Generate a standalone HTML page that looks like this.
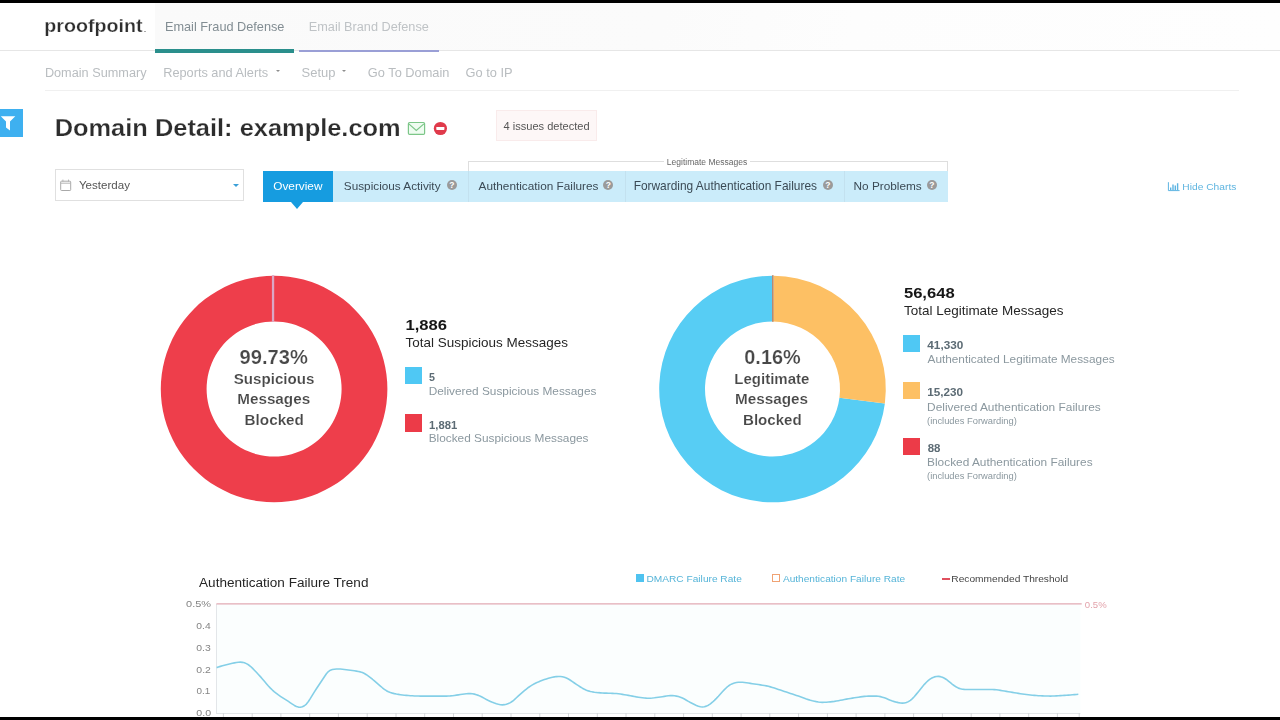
<!DOCTYPE html>
<html><head><meta charset="utf-8"><title>Domain Detail</title>
<style>
html,body{margin:0;padding:0;}
body{width:1280px;height:720px;overflow:hidden;background:#fff;position:relative;font-family:"Liberation Sans", sans-serif;}
.b{position:absolute;}
svg text{font-family:"Liberation Sans", sans-serif;white-space:pre;}
.q{position:absolute;width:10.4px;height:10.4px;border-radius:50%;background:#9a9a9a;color:#fff;font-family:"Liberation Sans", sans-serif;font-weight:bold;font-size:8.5px;line-height:10.6px;text-align:center;}
</style></head><body>
<svg class="b" style="left:0;top:0;z-index:1" width="1280" height="720" viewBox="0 0 1280 720">
<path d="M274.10 275.70 A113.3 113.3 0 1 1 274.08 275.70 L274.09 321.50 A67.5 67.5 0 1 0 274.10 321.50 Z" fill="#ee3e4b"/>
<rect x="271.9" y="275.2" width="2.3" height="46.6" fill="#dba6c4"/>
<path d="M884.87 403.49 A113.3 113.3 0 1 1 772.50 275.70 L772.50 321.50 A67.5 67.5 0 1 0 839.45 397.63 Z" fill="#57cdf4"/>
<path d="M773.61 275.71 A113.3 113.3 0 0 1 884.87 403.49 L839.45 397.63 A67.5 67.5 0 0 0 773.16 321.50 Z" fill="#fdc064"/>
<rect x="772.0" y="275.2" width="1.6" height="46.6" fill="#b98a6e"/>
<rect x="216.4" y="604" width="864" height="110" fill="#fbfefe"/>
<rect x="216" y="604" width="1" height="110" fill="#e3e6e9"/>
<rect x="216.4" y="713" width="864" height="1" fill="#e2e6e8"/>
<path d="M223.4 713V717M252.2 713V717M280.9 713V717M309.7 713V717M338.4 713V717M367.2 713V717M396.0 713V717M424.7 713V717M453.5 713V717M482.2 713V717M511.0 713V717M539.8 713V717M568.5 713V717M597.3 713V717M626.0 713V717M654.8 713V717M683.6 713V717M712.3 713V717M741.1 713V717M769.8 713V717M798.6 713V717M827.4 713V717M856.1 713V717M884.9 713V717M913.6 713V717M942.4 713V717M971.2 713V717M999.9 713V717M1028.7 713V717M1057.4 713V717M1079.2 713V717" stroke="#d4d8da" stroke-width="1" fill="none"/>
<path d="M216.4 603.9H1081.7" stroke="#e2aab3" stroke-width="1.4" fill="none"/>
<clipPath id="pc"><rect x="216.4" y="600" width="862.4" height="116"/></clipPath>
<path d="M216.4 667.61 L218.4 667.00 L220.4 666.38 L222.4 665.78 L224.4 665.22 L226.4 664.70 L228.4 664.22 L230.4 663.76 L232.4 663.30 L234.4 662.86 L236.4 662.49 L238.4 662.23 L240.4 662.15 L242.4 662.33 L244.4 662.83 L246.4 663.63 L248.4 664.76 L250.4 666.29 L252.4 668.16 L254.4 670.21 L256.4 672.31 L258.4 674.44 L260.4 676.66 L262.4 678.98 L264.4 681.33 L266.4 683.68 L268.4 685.94 L270.4 688.08 L272.4 690.03 L274.4 691.79 L276.4 693.40 L278.4 694.89 L280.4 696.29 L282.4 697.63 L284.4 698.91 L286.4 700.17 L288.4 701.45 L290.4 702.80 L292.4 704.16 L294.4 705.42 L296.4 706.45 L298.4 707.11 L300.4 707.26 L302.4 706.81 L304.4 705.76 L306.4 704.03 L308.4 701.50 L310.4 698.36 L312.4 695.05 L314.4 691.86 L316.4 688.77 L318.4 685.74 L320.4 682.76 L322.4 679.76 L324.4 676.70 L326.4 673.81 L328.4 671.54 L330.4 670.17 L332.4 669.50 L334.4 669.18 L336.4 669.01 L338.4 668.97 L340.4 669.04 L342.4 669.22 L344.4 669.47 L346.4 669.76 L348.4 670.05 L350.4 670.32 L352.4 670.58 L354.4 670.83 L356.4 671.11 L358.4 671.44 L360.4 671.89 L362.4 672.55 L364.4 673.50 L366.4 674.71 L368.4 676.08 L370.4 677.58 L372.4 679.23 L374.4 680.97 L376.4 682.70 L378.4 684.40 L380.4 686.08 L382.4 687.76 L384.4 689.34 L386.4 690.71 L388.4 691.78 L390.4 692.55 L392.4 693.14 L394.4 693.62 L396.4 694.02 L398.4 694.37 L400.4 694.68 L402.4 694.95 L404.4 695.18 L406.4 695.38 L408.4 695.54 L410.4 695.68 L412.4 695.81 L414.4 695.93 L416.4 696.01 L418.4 696.07 L420.4 696.09 L422.4 696.10 L424.4 696.10 L426.4 696.10 L428.4 696.10 L430.4 696.10 L432.4 696.10 L434.4 696.10 L436.4 696.10 L438.4 696.10 L440.4 696.10 L442.4 696.10 L444.4 696.10 L446.4 696.09 L448.4 696.03 L450.4 695.91 L452.4 695.69 L454.4 695.42 L456.4 695.13 L458.4 694.85 L460.4 694.58 L462.4 694.32 L464.4 694.05 L466.4 693.81 L468.4 693.65 L470.4 693.61 L472.4 693.77 L474.4 694.14 L476.4 694.68 L478.4 695.38 L480.4 696.26 L482.4 697.28 L484.4 698.38 L486.4 699.46 L488.4 700.47 L490.4 701.41 L492.4 702.30 L494.4 703.10 L496.4 703.78 L498.4 704.31 L500.4 704.68 L502.4 704.83 L504.4 704.67 L506.4 704.24 L508.4 703.56 L510.4 702.61 L512.4 701.29 L514.4 699.62 L516.4 697.77 L518.4 695.91 L520.4 694.14 L522.4 692.41 L524.4 690.71 L526.4 689.05 L528.4 687.49 L530.4 686.10 L532.4 684.87 L534.4 683.79 L536.4 682.80 L538.4 681.89 L540.4 681.06 L542.4 680.29 L544.4 679.58 L546.4 678.93 L548.4 678.31 L550.4 677.73 L552.4 677.24 L554.4 676.85 L556.4 676.58 L558.4 676.44 L560.4 676.46 L562.4 676.75 L564.4 677.28 L566.4 678.04 L568.4 679.02 L570.4 680.24 L572.4 681.61 L574.4 683.02 L576.4 684.37 L578.4 685.68 L580.4 686.96 L582.4 688.19 L584.4 689.28 L586.4 690.18 L588.4 690.89 L590.4 691.43 L592.4 691.84 L594.4 692.17 L596.4 692.44 L598.4 692.67 L600.4 692.85 L602.4 692.99 L604.4 693.09 L606.4 693.17 L608.4 693.23 L610.4 693.28 L612.4 693.35 L614.4 693.44 L616.4 693.57 L618.4 693.77 L620.4 694.04 L622.4 694.35 L624.4 694.68 L626.4 695.02 L628.4 695.38 L630.4 695.75 L632.4 696.14 L634.4 696.52 L636.4 696.89 L638.4 697.21 L640.4 697.50 L642.4 697.75 L644.4 697.98 L646.4 698.15 L648.4 698.23 L650.4 698.20 L652.4 698.06 L654.4 697.83 L656.4 697.55 L658.4 697.26 L660.4 696.97 L662.4 696.68 L664.4 696.37 L666.4 696.07 L668.4 695.80 L670.4 695.63 L672.4 695.61 L674.4 695.77 L676.4 696.11 L678.4 696.58 L680.4 697.20 L682.4 698.01 L684.4 699.03 L686.4 700.19 L688.4 701.37 L690.4 702.49 L692.4 703.52 L694.4 704.51 L696.4 705.45 L698.4 706.25 L700.4 706.80 L702.4 706.96 L704.4 706.71 L706.4 706.11 L708.4 705.17 L710.4 703.87 L712.4 702.24 L714.4 700.39 L716.4 698.42 L718.4 696.28 L720.4 694.02 L722.4 691.78 L724.4 689.67 L726.4 687.73 L728.4 686.00 L730.4 684.63 L732.4 683.68 L734.4 683.03 L736.4 682.57 L738.4 682.29 L740.4 682.19 L742.4 682.25 L744.4 682.43 L746.4 682.70 L748.4 683.01 L750.4 683.34 L752.4 683.67 L754.4 683.98 L756.4 684.27 L758.4 684.56 L760.4 684.86 L762.4 685.17 L764.4 685.52 L766.4 685.90 L768.4 686.34 L770.4 686.86 L772.4 687.44 L774.4 688.08 L776.4 688.75 L778.4 689.42 L780.4 690.10 L782.4 690.76 L784.4 691.41 L786.4 692.07 L788.4 692.74 L790.4 693.41 L792.4 694.08 L794.4 694.76 L796.4 695.43 L798.4 696.11 L800.4 696.81 L802.4 697.53 L804.4 698.26 L806.4 698.97 L808.4 699.63 L810.4 700.21 L812.4 700.72 L814.4 701.18 L816.4 701.61 L818.4 701.96 L820.4 702.21 L822.4 702.33 L824.4 702.32 L826.4 702.21 L828.4 702.05 L830.4 701.85 L832.4 701.63 L834.4 701.38 L836.4 701.07 L838.4 700.72 L840.4 700.33 L842.4 699.93 L844.4 699.52 L846.4 699.13 L848.4 698.77 L850.4 698.45 L852.4 698.13 L854.4 697.81 L856.4 697.50 L858.4 697.19 L860.4 696.90 L862.4 696.64 L864.4 696.42 L866.4 696.26 L868.4 696.16 L870.4 696.11 L872.4 696.10 L874.4 696.10 L876.4 696.14 L878.4 696.29 L880.4 696.64 L882.4 697.19 L884.4 697.86 L886.4 698.61 L888.4 699.44 L890.4 700.26 L892.4 701.01 L894.4 701.63 L896.4 702.15 L898.4 702.61 L900.4 702.95 L902.4 703.12 L904.4 703.00 L906.4 702.49 L908.4 701.62 L910.4 700.36 L912.4 698.63 L914.4 696.49 L916.4 694.13 L918.4 691.71 L920.4 689.24 L922.4 686.74 L924.4 684.35 L926.4 682.24 L928.4 680.43 L930.4 678.90 L932.4 677.71 L934.4 676.90 L936.4 676.43 L938.4 676.35 L940.4 676.66 L942.4 677.30 L944.4 678.23 L946.4 679.48 L948.4 681.02 L950.4 682.68 L952.4 684.27 L954.4 685.75 L956.4 687.08 L958.4 688.13 L960.4 688.82 L962.4 689.22 L964.4 689.42 L966.4 689.49 L968.4 689.50 L970.4 689.50 L972.4 689.50 L974.4 689.50 L976.4 689.50 L978.4 689.50 L980.4 689.50 L982.4 689.50 L984.4 689.50 L986.4 689.50 L988.4 689.50 L990.4 689.50 L992.4 689.52 L994.4 689.59 L996.4 689.77 L998.4 690.05 L1000.4 690.36 L1002.4 690.68 L1004.4 691.01 L1006.4 691.34 L1008.4 691.68 L1010.4 692.02 L1012.4 692.35 L1014.4 692.69 L1016.4 693.03 L1018.4 693.36 L1020.4 693.68 L1022.4 693.98 L1024.4 694.25 L1026.4 694.51 L1028.4 694.76 L1030.4 694.99 L1032.4 695.21 L1034.4 695.40 L1036.4 695.56 L1038.4 695.69 L1040.4 695.79 L1042.4 695.89 L1044.4 695.96 L1046.4 696.03 L1048.4 696.07 L1050.4 696.08 L1052.4 696.06 L1054.4 696.00 L1056.4 695.90 L1058.4 695.78 L1060.4 695.65 L1062.4 695.52 L1064.4 695.39 L1066.4 695.25 L1068.4 695.10 L1070.4 694.95 L1072.4 694.78 L1074.4 694.61 L1076.4 694.43 L1078.4 694.26 L1078.4 694.26" stroke="#84cfe7" stroke-width="1.6" fill="none" stroke-linejoin="round" clip-path="url(#pc)"/>
</svg>
<div class="b" style="left:0px;top:0px;width:1280px;height:3px;background:#000;"></div>
<div class="b" style="left:155px;top:3px;width:1125px;height:47px;background:linear-gradient(100deg,#fafafa 0%,#fbfbfb 45%,#fdfdfd 62%,#fefefe 100%);"></div>
<div class="b" style="left:0px;top:50px;width:1280px;height:1px;background:#e6e6e6;"></div>
<div class="b" style="left:144.3px;top:31px;width:1.3px;height:1.4px;background:#aaa;"></div>
<div class="b" style="left:155px;top:49px;width:139px;height:3.5px;background:#2a8f8c;"></div>
<div class="b" style="left:299px;top:50px;width:140px;height:2px;background:#9a9fd6;"></div>
<div class="b" style="left:276.1px;top:70px;border-left:2.5px solid transparent;border-right:2.5px solid transparent;border-top:2.7px solid #8e8e8e;"></div>
<div class="b" style="left:342.2px;top:70px;border-left:2.5px solid transparent;border-right:2.5px solid transparent;border-top:2.7px solid #8e8e8e;"></div>
<div class="b" style="left:45px;top:90px;width:1194px;height:1px;background:#f0f0f0;"></div>
<div class="b" style="left:0px;top:109px;width:23px;height:28px;background:#3eb0f0;"></div>
<svg class="b" style="left:0;top:109px" width="23" height="28" viewBox="0 0 23 28"><path d="M0.8 7.2 H15.3 L10 12.6 V21.6 L6 18.4 V12.6 Z" fill="#fff"/></svg>
<svg class="b" style="left:406px;top:120px" width="22" height="17" viewBox="0 0 22 17"><rect x="2.4" y="2.5" width="16.2" height="11.9" rx="1.2" fill="#effcf1" stroke="#7cc688" stroke-width="1.2"/><path d="M2.8 3.9 L10.3 10.4 L17.9 3.9" fill="none" stroke="#7cc688" stroke-width="1.2"/></svg>
<svg class="b" style="left:432px;top:120px" width="17" height="17" viewBox="0 0 17 17"><circle cx="8.4" cy="8.5" r="6.6" fill="#e03a4b"/><rect x="4.3" y="7.0" width="8.1" height="2.9" rx="0.6" fill="#fff"/></svg>
<div class="b" style="left:496px;top:110px;width:101px;height:31px;background:#fdf7f7;border:1px solid #f9ebeb;box-sizing:border-box;"></div>
<div class="b" style="left:55px;top:169px;width:189px;height:31.5px;background:#fff;border:1px solid #e0e0e0;box-sizing:border-box;"></div>
<svg class="b" style="left:59px;top:177px" width="14" height="16" viewBox="0 0 14 16"><rect x="1.7" y="4.2" width="10" height="9.3" rx="0.8" fill="#fff" stroke="#a9a9a9" stroke-width="1"/><path d="M3.9 2.6v2.2M9.5 2.6v2.2M1.7 6.2h10" stroke="#b5b5b5" stroke-width="1" fill="none"/></svg>
<div class="b" style="left:233px;top:184px;border-left:3.2px solid transparent;border-right:3.2px solid transparent;border-top:3.5px solid #3a9fd8;"></div>
<div class="b" style="left:263px;top:171px;width:684.5px;height:30.8px;background:#cbecfa;"></div>
<div class="b" style="left:263px;top:171px;width:69.8px;height:30.8px;background:#169ce0;"></div>
<div class="b" style="left:291px;top:201.5px;border-left:6.8px solid transparent;border-right:6.8px solid transparent;border-top:7.5px solid #169ce0;"></div>
<div class="b" style="left:467.5px;top:171px;width:1px;height:30.8px;background:#c3e1ef;"></div>
<div class="b" style="left:624.5px;top:171px;width:1px;height:30.8px;background:#c3e1ef;"></div>
<div class="b" style="left:843.5px;top:171px;width:1px;height:30.8px;background:#c3e1ef;"></div>
<div class="q" style="left:446.7px;top:179.8px">?</div>
<div class="q" style="left:603.1px;top:179.8px">?</div>
<div class="q" style="left:822.6px;top:179.8px">?</div>
<div class="q" style="left:926.6px;top:179.8px">?</div>
<div class="b" style="left:467.5px;top:161px;width:196px;height:1px;background:#dedede;"></div>
<div class="b" style="left:750px;top:161px;width:197.5px;height:1px;background:#dedede;"></div>
<div class="b" style="left:467.5px;top:161px;width:1px;height:10px;background:#dedede;"></div>
<div class="b" style="left:946.5px;top:161px;width:1px;height:10px;background:#dedede;"></div>
<svg class="b" style="left:1167px;top:181px" width="14" height="11" viewBox="0 0 14 11"><path d="M1.4 1.2V9.6H12.6" stroke="#5db4e2" stroke-width="1" fill="none"/><path d="M3.7 9V6.4M6 9V3.4M8.3 9V4.6M10.6 9V2.2" stroke="#5db4e2" stroke-width="1.4" fill="none"/></svg>
<div class="b" style="left:404.8px;top:367.2px;width:17.4px;height:16.8px;background:#4fc8f4;"></div>
<div class="b" style="left:404.8px;top:414.4px;width:17.4px;height:17.2px;background:#ec3b48;"></div>
<div class="b" style="left:903.1px;top:335.1px;width:17.4px;height:17px;background:#4fc8f4;"></div>
<div class="b" style="left:903.1px;top:382.2px;width:17.4px;height:17.2px;background:#fdc064;"></div>
<div class="b" style="left:903.1px;top:438.1px;width:17.4px;height:16.9px;background:#ec3b48;"></div>
<div class="b" style="left:635.8px;top:574.3px;width:8px;height:7.8px;background:#4fc3f0;"></div>
<div class="b" style="left:771.9px;top:574.3px;width:8px;height:7.8px;background:#fff;border:1.2px solid #f0a273;box-sizing:border-box;"></div>
<div class="b" style="left:941.6px;top:578px;width:8.4px;height:2px;background:#e0505e;"></div>
<svg class="b" style="left:0;top:0;z-index:3;will-change:transform" width="1280" height="720" viewBox="0 0 1280 720">
<text x="44.32" y="32" font-size="18.99" fill="#2e2e2e" font-weight="bold" stroke="#fff" stroke-width="0.25" textLength="98.23" lengthAdjust="spacingAndGlyphs">proofpoint</text>
<text x="164.98" y="31" font-size="12.73" fill="#828d93">Email Fraud Defense</text>
<text x="308.78" y="31" font-size="12.71" fill="#bfc3c6">Email Brand Defense</text>
<text x="44.88" y="77" font-size="12.71" fill="#b9bdc0">Domain Summary</text>
<text x="163.18" y="77" font-size="12.76" fill="#b9bdc0">Reports and Alerts</text>
<text x="301.62" y="77" font-size="12.98" fill="#b9bdc0">Setup</text>
<text x="367.86" y="77" font-size="12.80" fill="#b9bdc0">Go To Domain</text>
<text x="465.56" y="77" font-size="12.84" fill="#b9bdc0">Go to IP</text>
<text x="54.65" y="136" font-size="24.44" fill="#2d2d2d" font-weight="bold" stroke="#fff" stroke-width="0.25" textLength="346.06" lengthAdjust="spacingAndGlyphs">Domain Detail: example.com</text>
<text x="503.53" y="130" font-size="11.07" fill="#555">4 issues detected</text>
<text x="78.97" y="189" font-size="11.57" fill="#555">Yesterday</text>
<text x="273.22" y="190" font-size="11.82" fill="#fff">Overview</text>
<text x="343.87" y="190" font-size="11.75" fill="#3b4a55">Suspicious Activity</text>
<text x="478.60" y="190" font-size="11.79" fill="#3b4a55">Authentication Failures</text>
<text x="633.65" y="190" font-size="11.92" fill="#3b4a55">Forwarding Authentication Failures</text>
<text x="853.56" y="190" font-size="11.81" fill="#3b4a55">No Problems</text>
<text x="666.82" y="165" font-size="8.50" fill="#666">Legitimate Messages</text>
<text x="1182.38" y="190" font-size="9.36" fill="#5fb5e0" textLength="53.98" lengthAdjust="spacingAndGlyphs">Hide Charts</text>
<text x="239.50" y="364" font-size="19.41" fill="#484848" font-weight="bold" stroke="#fff" stroke-width="0.2" textLength="68.29" lengthAdjust="spacingAndGlyphs">99.73%</text>
<text x="233.72" y="384" font-size="13.83" fill="#484848" font-weight="bold" stroke="#fff" stroke-width="0.15" textLength="80.73" lengthAdjust="spacingAndGlyphs">Suspicious</text>
<text x="237.21" y="404" font-size="13.83" fill="#484848" font-weight="bold" stroke="#fff" stroke-width="0.15" textLength="72.94" lengthAdjust="spacingAndGlyphs">Messages</text>
<text x="244.61" y="425" font-size="13.83" fill="#484848" font-weight="bold" stroke="#fff" stroke-width="0.15" textLength="59.29" lengthAdjust="spacingAndGlyphs">Blocked</text>
<text x="744.30" y="364" font-size="19.41" fill="#484848" font-weight="bold" stroke="#fff" stroke-width="0.2" textLength="56.38" lengthAdjust="spacingAndGlyphs">0.16%</text>
<text x="734.32" y="384" font-size="13.83" fill="#484848" font-weight="bold" stroke="#fff" stroke-width="0.15" textLength="75.04" lengthAdjust="spacingAndGlyphs">Legitimate</text>
<text x="735.01" y="404" font-size="13.83" fill="#484848" font-weight="bold" stroke="#fff" stroke-width="0.15" textLength="73.05" lengthAdjust="spacingAndGlyphs">Messages</text>
<text x="743.02" y="425" font-size="13.83" fill="#484848" font-weight="bold" stroke="#fff" stroke-width="0.15" textLength="58.57" lengthAdjust="spacingAndGlyphs">Blocked</text>
<text x="405.40" y="330" font-size="15.22" fill="#161616" font-weight="bold" textLength="41.60" lengthAdjust="spacingAndGlyphs">1,886</text>
<text x="405.53" y="347" font-size="12.43" fill="#262626" textLength="162.44" lengthAdjust="spacingAndGlyphs">Total Suspicious Messages</text>
<text x="429.08" y="381" font-size="10.47" fill="#5c6b74" font-weight="bold" textLength="5.95" lengthAdjust="spacingAndGlyphs">5</text>
<text x="428.65" y="395" font-size="10.75" fill="#8b989f" textLength="167.76" lengthAdjust="spacingAndGlyphs">Delivered Suspicious Messages</text>
<text x="429.08" y="429" font-size="10.34" fill="#5c6b74" font-weight="bold" textLength="28.12" lengthAdjust="spacingAndGlyphs">1,881</text>
<text x="428.65" y="442" font-size="10.75" fill="#8b989f" textLength="159.86" lengthAdjust="spacingAndGlyphs">Blocked Suspicious Messages</text>
<text x="903.90" y="298" font-size="15.36" fill="#161616" font-weight="bold" textLength="50.83" lengthAdjust="spacingAndGlyphs">56,648</text>
<text x="903.93" y="315" font-size="12.43" fill="#262626" textLength="159.64" lengthAdjust="spacingAndGlyphs">Total Legitimate Messages</text>
<text x="927.32" y="349" font-size="10.47" fill="#5c6b74" font-weight="bold" textLength="36.00" lengthAdjust="spacingAndGlyphs">41,330</text>
<text x="927.50" y="363" font-size="10.75" fill="#8b989f" textLength="187.11" lengthAdjust="spacingAndGlyphs">Authenticated Legitimate Messages</text>
<text x="927.30" y="396" font-size="10.47" fill="#5c6b74" font-weight="bold" textLength="35.83" lengthAdjust="spacingAndGlyphs">15,230</text>
<text x="927.05" y="411" font-size="10.75" fill="#8b989f" textLength="173.76" lengthAdjust="spacingAndGlyphs">Delivered Authentication Failures</text>
<text x="927.04" y="424" font-size="8.66" fill="#8b989f" textLength="89.80" lengthAdjust="spacingAndGlyphs">(includes Forwarding)</text>
<text x="927.66" y="452" font-size="10.47" fill="#5c6b74" font-weight="bold" textLength="12.74" lengthAdjust="spacingAndGlyphs">88</text>
<text x="927.05" y="466" font-size="10.75" fill="#8b989f" textLength="165.56" lengthAdjust="spacingAndGlyphs">Blocked Authentication Failures</text>
<text x="927.04" y="479" font-size="8.66" fill="#8b989f" textLength="89.80" lengthAdjust="spacingAndGlyphs">(includes Forwarding)</text>
<text x="199.10" y="587" font-size="12.85" fill="#262626" textLength="169.33" lengthAdjust="spacingAndGlyphs">Authentication Failure Trend</text>
<text x="646.49" y="582" font-size="9.92" fill="#55b4d8" textLength="95.33" lengthAdjust="spacingAndGlyphs">DMARC Failure Rate</text>
<text x="782.90" y="582" font-size="9.92" fill="#55b4d8" textLength="122.22" lengthAdjust="spacingAndGlyphs">Authentication Failure Rate</text>
<text x="951.29" y="582" font-size="9.92" fill="#444" textLength="116.93" lengthAdjust="spacingAndGlyphs">Recommended Threshold</text>
<text x="186.12" y="607" font-size="9.64" fill="#858585" textLength="24.96" lengthAdjust="spacingAndGlyphs">0.5%</text>
<text x="196.34" y="629" font-size="9.64" fill="#858585" textLength="14.33" lengthAdjust="spacingAndGlyphs">0.4</text>
<text x="196.34" y="651" font-size="9.64" fill="#858585" textLength="14.49" lengthAdjust="spacingAndGlyphs">0.3</text>
<text x="196.33" y="673" font-size="9.64" fill="#858585" textLength="14.55" lengthAdjust="spacingAndGlyphs">0.2</text>
<text x="196.56" y="694" font-size="9.64" fill="#858585" textLength="13.70" lengthAdjust="spacingAndGlyphs">0.1</text>
<text x="196.33" y="716" font-size="9.64" fill="#858585" textLength="14.76" lengthAdjust="spacingAndGlyphs">0.0</text>
<text x="1084.87" y="608" font-size="9.55" fill="#e3a3ab">0.5%</text>
</svg>
<div class="b" style="left:0;top:717px;width:1280px;height:3px;background:#000;z-index:5"></div>
</body></html>
